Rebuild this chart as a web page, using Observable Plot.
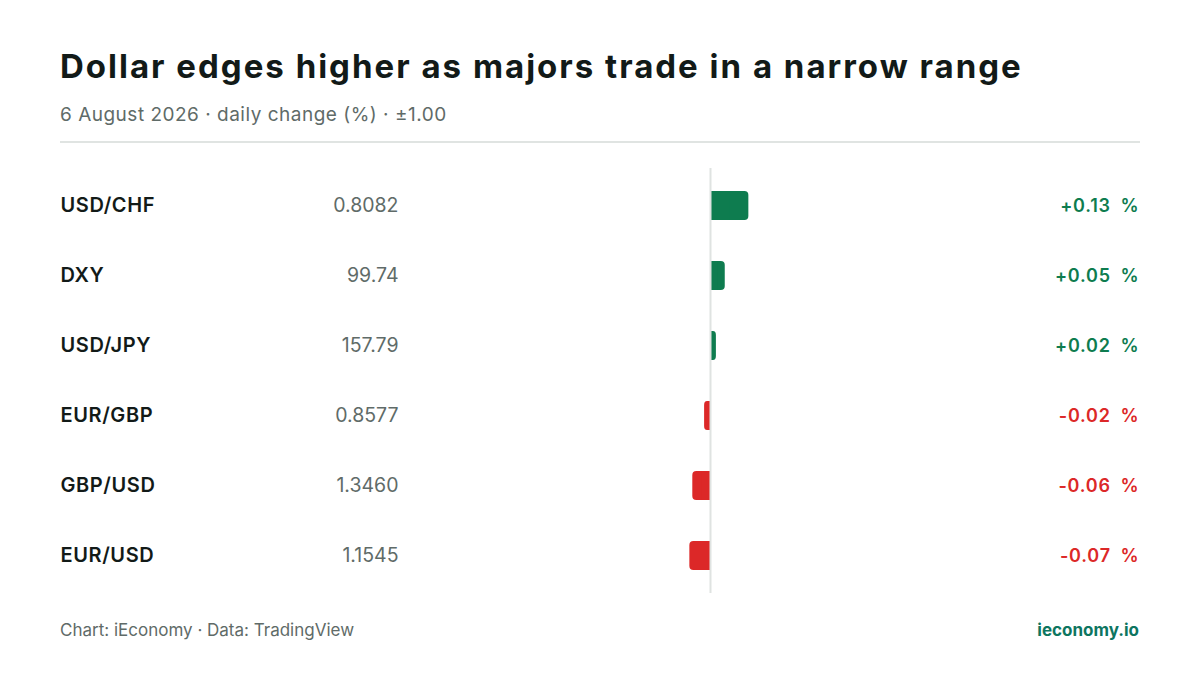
<!DOCTYPE html>
<html>
<head>
<meta charset="utf-8">
<script src="https://cdn.jsdelivr.net/npm/d3@7"></script>
<script src="https://cdn.jsdelivr.net/npm/@observablehq/plot@0.6"></script>
<style>
  html, body { margin: 0; padding: 0; background: #ffffff; }
  body { width: 1200px; height: 675px; position: relative; overflow: hidden; font-family: Inter, "Noto Sans", sans-serif; }
  #title { position: absolute; left: 60px; top: 50px; font-size: 33px; font-weight: 700; color: #121a18; line-height: 1; letter-spacing: 2px; white-space: nowrap; }
  #subtitle { position: absolute; left: 60px; top: 105px; font-size: 19px; font-weight: 400; color: #5f6b68; line-height: 1; letter-spacing: 0.5px; white-space: nowrap; }
  #rule { position: absolute; left: 60px; top: 141px; width: 1080px; height: 1.5px; background: #e0e4e2; }
  #chart { position: absolute; left: 0; top: 142px; }
  #source { position: absolute; left: 60px; top: 622px; font-size: 17px; color: #5f6b68; line-height: 1; white-space: nowrap; }
  #brand { position: absolute; right: 61px; top: 622px; font-size: 17px; font-weight: 700; color: #0d7560; line-height: 1; white-space: nowrap; }
  .lbl { letter-spacing: 0.6px; }
  .chg { letter-spacing: 0.8px; }
</style>
</head>
<body>
<div id="title">Dollar edges higher as majors trade in a narrow range</div>
<div id="subtitle">6 August 2026 · daily change (%) · ±1.00</div>
<div id="rule"></div>
<div id="chart"></div>
<div id="source">Chart: iEconomy · Data: TradingView</div>
<div id="brand">ieconomy.io</div>
<script>
const pairs   = ["USD/CHF", "DXY", "USD/JPY", "EUR/GBP", "GBP/USD", "EUR/USD"];
const prices  = ["0.8082", "99.74", "157.79", "0.8577", "1.3460", "1.1545"];
const changes = [0.13, 0.05, 0.02, -0.02, -0.06, -0.07];
const xDomain = [-1, 1];

const rows = pairs.map((p, i) => ({pair: p, price: prices[i], chg: changes[i]}));
const fmt = v => (v > 0 ? "+" : "") + v.toFixed(2) + "\u2002%";
const col = d => d.chg >= 0 ? "#0e7c4f" : "#dc2828";

const chart = Plot.plot({
  width: 1200,
  height: 461,
  marginLeft: 415,
  marginRight: 195,
  marginTop: 26,
  marginBottom: 10,
  style: {fontFamily: "Inter, 'Noto Sans', sans-serif", background: "transparent"},
  x: {domain: xDomain, axis: null},
  y: {domain: pairs, axis: null, paddingInner: 0.58, paddingOuter: 0.29},
  marks: [
    Plot.barX(rows, {y: "pair", x1: 0, x2: "chg", fill: col, rx: 4}),
    Plot.barX(rows, {y: "pair", x1: 0, x2: d => d.chg / 2, fill: col}),
    Plot.ruleX([0], {stroke: "#dfe3e1", strokeWidth: 2}),
    Plot.text(rows, {y: "pair", text: "pair", frameAnchor: "left", dx: -355, textAnchor: "start",
      fontSize: 20, fontWeight: 600, fill: "#121a18"}),
    Plot.text(rows, {y: "pair", text: "price", frameAnchor: "left", dx: -17, textAnchor: "end",
      fontSize: 19.5, fontWeight: 400, fill: "#5f6b68"}),
    Plot.text(rows, {y: "pair", text: d => fmt(d.chg), frameAnchor: "right", dx: 134, textAnchor: "end",
      fontSize: 18, fontWeight: 600, fill: col})
  ]
});
const textGroups = chart.querySelectorAll('g[aria-label="text"]');
if (textGroups[0]) textGroups[0].setAttribute("class", "lbl");
if (textGroups[2]) textGroups[2].setAttribute("class", "chg");
document.getElementById("chart").appendChild(chart);
</script>
</body>
</html>
